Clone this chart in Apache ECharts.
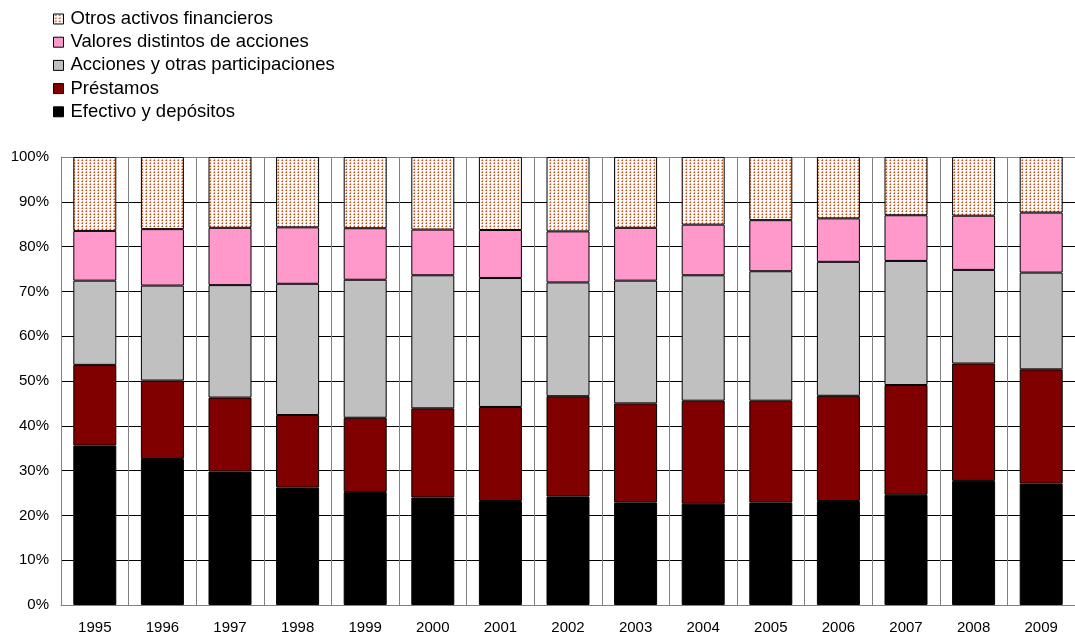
<!DOCTYPE html>
<html>
<head>
<meta charset="utf-8">
<script src="https://cdn.jsdelivr.net/npm/echarts@6/dist/echarts.min.js"></script>
<style>
  html, body { margin: 0; padding: 0; background: #fff; }
  #chart { width: 1075px; height: 636px; }
</style>
</head>
<body>
<div id="chart"></div>
<script>
// Composition of financial assets by instrument, share of total (%)
const years = ['1995','1996','1997','1998','1999','2000','2001','2002','2003','2004','2005','2006','2007','2008','2009'];

const efectivo   = [35.6, 32.6, 29.8, 26.2, 25.2, 24.0, 23.2, 24.2, 22.9, 22.6, 22.9, 23.2, 24.6, 27.7, 27.1];
const prestamos  = [18.0, 17.5, 16.5, 16.2, 16.6, 19.9, 21.0, 22.4, 22.1, 23.0, 22.7, 23.5, 24.5, 26.2, 25.5];
const acciones   = [18.8, 21.2, 25.1, 29.3, 30.8, 29.7, 28.8, 25.4, 27.4, 28.0, 28.9, 29.9, 27.7, 20.9, 21.6];
const valores    = [11.1, 12.6, 12.8, 12.6, 11.5, 10.2, 10.7, 11.4, 11.8, 11.3, 11.4,  9.7, 10.2, 12.1, 13.4];
const otros      = [16.5, 16.1, 15.8, 15.7, 15.9, 16.2, 16.3, 16.6, 15.8, 15.1, 14.1, 13.7, 13.0, 13.1, 12.4];

const seriesNames = [
  'Efectivo y depósitos',
  'Préstamos',
  'Acciones y otras participaciones',
  'Valores distintos de acciones',
  'Otros activos financieros'
];
const yTicks = [0, 10, 20, 30, 40, 50, 60, 70, 80, 90, 100];

// Dotted fill for the top segment
function dotPattern() {
  const c = document.createElement('canvas');
  c.width = 4; c.height = 3;
  const ctx = c.getContext('2d');
  ctx.fillStyle = '#fbf1ea';
  ctx.fillRect(0, 0, 4, 3);
  ctx.fillStyle = '#ffffff';
  ctx.fillRect(0, 0, 1, 3);
  ctx.fillStyle = '#c0501a';
  ctx.fillRect(2, 1, 1, 1);
  ctx.fillStyle = '#dd9a78';
  ctx.fillRect(1, 1, 1, 1);
  ctx.fillRect(2, 0, 1, 1);
  return c;
}

const fills = ['#000000', '#800000', '#c0c0c0', '#ff99cc', { image: dotPattern(), repeat: 'repeat' }];
const values = [efectivo, prestamos, acciones, valores, otros];

const chart = echarts.init(document.getElementById('chart'), null, { renderer: 'canvas' });

const series = seriesNames.map((name, i) => ({
  name: name,
  type: 'bar',
  stack: 'total',
  barWidth: 43,
  data: values[i],
  itemStyle: { color: fills[i], borderColor: '#000', borderWidth: 1 },
  emphasis: { disabled: true }
}));

// split line colours: outer frame grey, inner gridlines black
const hLineColors = yTicks.map((t, i) => (i === 0 || i === yTicks.length - 1) ? '#808080' : '#000000');

chart.setOption({
  animation: false,
  textStyle: { fontFamily: 'Liberation Sans, Arial, sans-serif' },
  legend: {
    orient: 'vertical',
    left: 53,
    top: 9,
    padding: 0,
    itemWidth: 10,
    itemHeight: 10,
    itemGap: 3.2,
    icon: 'rect',
    data: seriesNames.slice().reverse(),
    textStyle: { fontSize: 18.5, color: '#000', lineHeight: 20, padding: [0, 0, 0, 2] },
    itemStyle: { borderColor: '#000', borderWidth: 1 }
  },
  grid: { left: 61, top: 157, width: 1020, height: 448, containLabel: false },
  xAxis: {
    type: 'category',
    data: years,
    boundaryGap: true,
    axisLine: { show: true, lineStyle: { color: '#808080', width: 1 } },
    axisTick: { show: false },
    axisLabel: { color: '#000', fontSize: 15, margin: 15 },
    splitLine: { show: true, lineStyle: { color: '#808080', width: 1 } }
  },
  yAxis: {
    type: 'value',
    min: 0,
    max: 100,
    interval: 10,
    axisLine: { show: true, lineStyle: { color: '#808080', width: 1 } },
    axisTick: { show: false },
    axisLabel: { color: '#000', fontSize: 15, margin: 12, formatter: '{value}%' },
    splitLine: { show: true, lineStyle: { color: hLineColors, width: 1 } }
  },
  series: series
});
</script>
</body>
</html>
